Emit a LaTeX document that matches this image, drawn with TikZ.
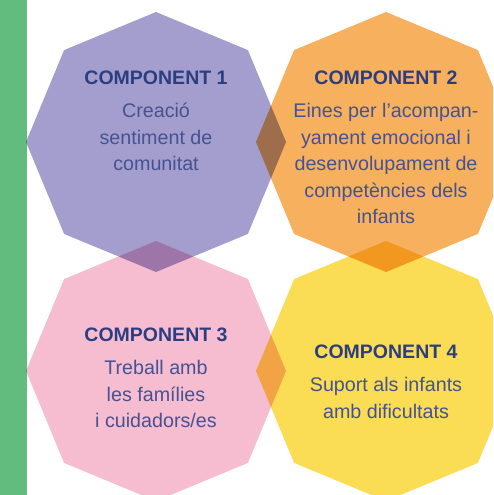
\documentclass[tikz,border=0pt]{standalone}
\usepackage{fontspec}
\setmainfont{Liberation Sans}
\usetikzlibrary{positioning,shapes.geometric}

\definecolor{barGreen}{RGB}{98,188,125}
\definecolor{compPurple}{RGB}{164,158,206}
\definecolor{compOrange}{RGB}{247,176,94}
\definecolor{compPink}{RGB}{246,189,209}
\definecolor{compYellow}{RGB}{250,220,85}
\definecolor{headBlue}{RGB}{44,62,128}
\definecolor{bodyBlue}{RGB}{70,82,145}

\begin{document}
\begin{tikzpicture}[
  x=1pt, y=-1pt,
  node distance=18pt,
  octa/.style={regular polygon, regular polygon sides=8, shape border rotate=22.5,
    minimum size=260pt, inner sep=0pt, outer sep=0pt, fill=#1, blend mode=multiply},
  heading/.style={font=\bfseries\fontsize{19.5}{24}\selectfont, text=headBlue, inner sep=0pt},
  body/.style={font=\fontsize{19.7}{26.5}\selectfont, text=bodyBlue, align=center, inner sep=0pt}
]
  \useasboundingbox (0,0) rectangle (493,495);
  \clip (0,0) rectangle (493,495);
  \fill[barGreen] (0,0) rectangle (27,495);

  % the four octagons
  \node[octa=compPurple] (octa1) at (156,142) {};
  \node[octa=compOrange] (octa2) at (386,142) {};
  \node[octa=compPink]   (octa3) at (156,371) {};
  \node[octa=compYellow] (octa4) at (386,371) {};

  % texts
  \node[heading] (head1) at ([yshift=64pt]octa1.center) {COMPONENT 1};
  \node[body, below=of head1] (text1) {Creació\\sentiment de\\comunitat};

  \node[heading] (head2) at ([yshift=64pt]octa2.center) {COMPONENT 2};
  \node[body, below=of head2] (text2) {Eines per l’acompan-\\yament emocional i\\desenvolupament de\\competències dels\\infants};

  \node[heading] (head3) at ([yshift=36pt]octa3.center) {COMPONENT 3};
  \node[body, below=of head3] (text3) {Treball amb\\les famílies\\i cuidadors/es};

  \node[heading] (head4) at ([yshift=19pt]octa4.center) {COMPONENT 4};
  \node[body, below=of head4] (text4) {Suport als infants\\amb dificultats};
\end{tikzpicture}
\end{document}
